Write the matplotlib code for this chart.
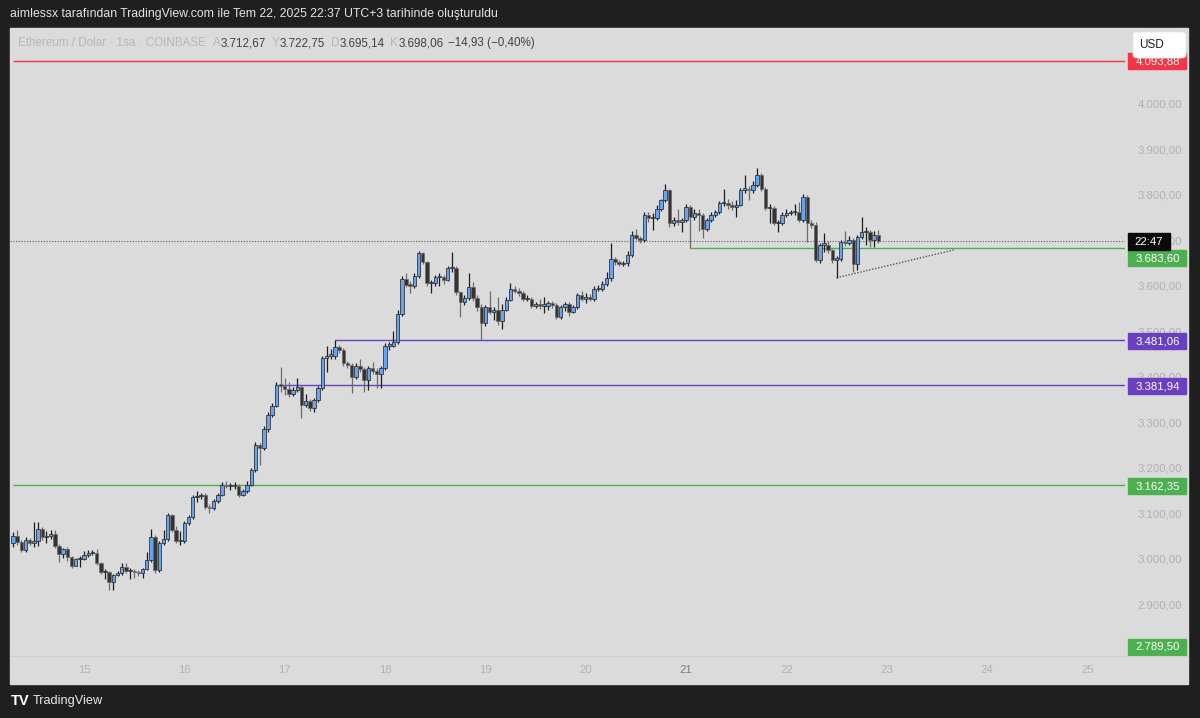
import numpy as np
import matplotlib.pyplot as plt
from matplotlib.patches import Rectangle, FancyBboxPatch
from matplotlib.lines import Line2D

plt.rcParams['font.family'] = ['Liberation Sans', 'DejaVu Sans']

# ---------------- data (ETH/USD, 1h, COINBASE) ----------------
first_open = 3035
closes = [3051, 3037, 3020, 3042, 3035, 3040, 3066, 3048, 3051, 3055,
          3029, 3011, 3022, 3004, 2985, 3000, 3000, 3009, 3013, 3013,
          2991, 2971, 2971, 2949, 2965, 2969, 2982, 2974, 2974, 2971,
          2969, 2978, 2998, 3048, 2976, 3035, 3044, 3097, 3064, 3040,
          3040, 3079, 3092, 3136, 3139, 3141, 3114, 3112, 3128, 3141,
          3163, 3161, 3161, 3161, 3141, 3150, 3163, 3196, 3251, 3244,
          3286, 3317, 3337, 3383, 3381, 3374, 3363, 3372, 3378, 3339,
          3348, 3332, 3350, 3376, 3442, 3447, 3447, 3466, 3460, 3431,
          3427, 3400, 3425, 3418, 3394, 3420, 3414, 3407, 3420, 3469,
          3469, 3477, 3539, 3616, 3603, 3601, 3623, 3673, 3653, 3607,
          3607, 3620, 3620, 3614, 3640, 3640, 3587, 3565, 3574, 3598,
          3574, 3554, 3519, 3554, 3543, 3548, 3524, 3548, 3570, 3594,
          3590, 3585, 3572, 3572, 3557, 3559, 3557, 3557, 3563, 3559,
          3532, 3554, 3561, 3543, 3554, 3581, 3572, 3576, 3572, 3594,
          3594, 3605, 3618, 3660, 3653, 3649, 3651, 3669, 3713, 3706,
          3700, 3757, 3750, 3750, 3770, 3788, 3810, 3739, 3744, 3741,
          3744, 3774, 3752, 3761, 3755, 3726, 3746, 3757, 3763, 3783,
          3783, 3779, 3774, 3779, 3812, 3812, 3810, 3823, 3843, 3814,
          3772, 3772, 3739, 3739, 3757, 3761, 3763, 3763, 3744, 3796,
          3739, 3735, 3658, 3691, 3691, 3678, 3658, 3660, 3697, 3695,
          3702, 3649, 3708, 3719, 3719, 3702, 3712.67, 3698.06]
highs = [3060, 3063, 3041, 3048, 3046, 3081, 3081, 3070, 3062, 3064,
         3064, 3032, 3024, 3026, 3007, 3003, 3007, 3017, 3020, 3020,
         3022, 2993, 2978, 2974, 2968, 2974, 2991, 2991, 2980, 2978,
         2976, 2981, 3015, 3066, 3052, 3040, 3064, 3100, 3099, 3073,
         3062, 3083, 3097, 3140, 3150, 3146, 3145, 3120, 3132, 3145,
         3170, 3172, 3168, 3170, 3164, 3154, 3172, 3200, 3258, 3256,
         3292, 3322, 3342, 3388, 3422, 3398, 3390, 3378, 3398, 3382,
         3362, 3352, 3354, 3380, 3447, 3469, 3462, 3481, 3470, 3463,
         3436, 3430, 3430, 3440, 3422, 3424, 3432, 3420, 3425, 3474,
         3478, 3500, 3548, 3622, 3629, 3610, 3629, 3676, 3675, 3656,
         3614, 3625, 3628, 3624, 3645, 3675, 3645, 3590, 3580, 3629,
         3608, 3580, 3560, 3558, 3590, 3553, 3576, 3560, 3575, 3607,
         3600, 3595, 3590, 3580, 3576, 3564, 3572, 3576, 3568, 3566,
         3562, 3558, 3565, 3565, 3558, 3585, 3590, 3585, 3582, 3600,
         3602, 3612, 3630, 3695, 3664, 3658, 3656, 3676, 3720, 3725,
         3710, 3762, 3763, 3760, 3778, 3792, 3825, 3814, 3752, 3770,
         3750, 3780, 3778, 3770, 3770, 3760, 3750, 3762, 3768, 3786,
         3814, 3792, 3786, 3790, 3816, 3843, 3820, 3830, 3860, 3848,
         3818, 3780, 3776, 3745, 3762, 3770, 3768, 3780, 3785, 3803,
         3800, 3744, 3740, 3695, 3717, 3698, 3682, 3665, 3700, 3721,
         3710, 3706, 3712, 3752, 3730, 3723, 3720, 3722.75]
lows = [3026, 3030, 3015, 3016, 3030, 3027, 3029, 3042, 3035, 3044,
        3024, 2993, 3002, 2996, 2980, 2984, 2983, 2998, 3004, 3009,
        2987, 2967, 2956, 2932, 2932, 2962, 2965, 2970, 2956, 2958,
        2962, 2958, 2976, 2994, 2970, 2972, 3030, 3040, 3060, 3035,
        3030, 3036, 3075, 3088, 3125, 3132, 3110, 3100, 3108, 3124,
        3138, 3156, 3152, 3154, 3137, 3138, 3146, 3160, 3192, 3207,
        3240, 3280, 3312, 3333, 3367, 3360, 3355, 3358, 3366, 3310,
        3333, 3325, 3322, 3345, 3372, 3411, 3440, 3440, 3452, 3425,
        3420, 3365, 3395, 3410, 3367, 3371, 3406, 3376, 3376, 3415,
        3460, 3465, 3472, 3533, 3598, 3585, 3596, 3618, 3648, 3600,
        3585, 3600, 3600, 3605, 3610, 3630, 3580, 3532, 3558, 3570,
        3568, 3545, 3482, 3512, 3538, 3525, 3515, 3505, 3545, 3566,
        3585, 3578, 3566, 3566, 3552, 3552, 3550, 3540, 3548, 3552,
        3528, 3528, 3545, 3535, 3540, 3550, 3566, 3562, 3566, 3568,
        3588, 3590, 3600, 3612, 3646, 3643, 3645, 3645, 3664, 3700,
        3695, 3696, 3740, 3722, 3744, 3765, 3785, 3730, 3732, 3735,
        3718, 3740, 3684, 3746, 3720, 3706, 3720, 3740, 3752, 3758,
        3775, 3770, 3768, 3752, 3775, 3805, 3790, 3805, 3818, 3808,
        3768, 3739, 3733, 3719, 3735, 3752, 3755, 3756, 3740, 3740,
        3697, 3728, 3652, 3650, 3675, 3672, 3650, 3618, 3655, 3688,
        3690, 3631, 3636, 3704, 3690, 3685, 3685, 3695.14]
opens = [first_open] + closes[:-1]

day_labels = ['15', '16', '17', '18', '19', '20', '21', '22', '23', '24', '25']
first_midnight = 17          # candle index of 15 Tem 00:00
price_ticks = [2900, 3000, 3100, 3200, 3300, 3400, 3500, 3600, 3700, 3800, 3900, 4000]

# drawn levels: (value, colour, first candle index)
levels = [(4093.88, '#f23645', 0),
          (3683.60, '#4caf50', 162),
          (3481.06, '#6a3fc0', 77),
          (3381.94, '#6a3fc0', 64),
          (3162.35, '#4caf50', 0)]
# price scale tags: (text, colour, shown at)
tags = [('4.093,88', '#f23645', 4093.88),
        ('3.683,60', '#4caf50', 3661),
        ('3.481,06', '#6a3fc0', 3479),
        ('3.381,94', '#6a3fc0', 3380),
        ('3.162,35', '#4caf50', 3160),
        ('2.789,50', '#4caf50', 2807)]
last_price = 3698.06
trend_x = [197, 225.4]
trend_y = [3618, 3680]


def tr(v):
    return f"{v:,.2f}".replace(',', '#').replace('.', ',').replace('#', '.')


W, H = 1200, 718
fig = plt.figure(figsize=(W / 100, H / 100), dpi=100, facecolor='#1f1f1f')


def fx(px):
    return px / W


def fy(py):
    return 1 - py / H


panel = '#dbdbdb'
fig.patches.append(Rectangle((fx(10), fy(684)), fx(1188) - fx(10), fy(28) - fy(684),
                             transform=fig.transFigure, color=panel, zorder=-5))

ax = fig.add_axes([fx(10), fy(655), (1125 - 10) / W, (655 - 28) / H])
ax.set_facecolor(panel)
ax.set_ylim(2789, 4167)
ax.set_xlim(-0.72, 266.0)
for s in ax.spines.values():
    s.set_visible(False)

idx = np.arange(len(closes))
o = np.array(opens, float)
c = np.array(closes, float)
hi = np.array(highs, float)
lo = np.array(lows, float)
up = c >= o
blo = np.minimum(o, c)
bh = np.maximum(np.abs(c - o), 2.6)

ax.vlines(idx[up], lo[up], hi[up], color='#1c1c1c', lw=0.9, zorder=3)
ax.vlines(idx[~up], lo[~up], hi[~up], color='#6c6c6c', lw=0.9, zorder=3)
ax.bar(idx[up], bh[up], bottom=blo[up], width=0.82, color='#66a3f2',
       edgecolor='#2a2a2a', linewidth=0.55, zorder=4)
ax.bar(idx[~up], bh[~up], bottom=blo[~up], width=0.82, color='#333333',
       edgecolor='#6e6e6e', linewidth=0.55, zorder=4)

for val, col, start in levels:
    ax.plot([start, 266.0], [val, val], color=col, lw=1.0, zorder=2,
            solid_capstyle='butt')

ax.axhline(last_price, color='#5a5a5a', lw=0.8, ls=(0, (1, 1.5)), zorder=1)
ax.plot(trend_x, trend_y, color='#555555', lw=1.0, ls=(0, (1, 1.2)), zorder=2)

# axes ticks
ax.yaxis.tick_right()
ax.set_yticks(price_ticks)
ax.set_yticklabels([tr(v) for v in price_ticks])
ax.tick_params(axis='y', length=0, pad=9, labelsize=8.2, labelcolor='#b0b0b0')
ax.set_xticks([first_midnight + 24 * k for k in range(len(day_labels))])
ax.set_xticklabels(day_labels)
ax.tick_params(axis='x', length=0, pad=7, labelsize=8.2, labelcolor='#b0b2b8')
for t in ax.get_xticklabels():
    if t.get_text() == '21':
        t.set_color('#7b7d84')

# price scale overlay (tags)
sax = fig.add_axes([fx(1125), fy(655), 63 / W, (655 - 28) / H], sharey=ax)
sax.set_xlim(0, 63)
sax.axis('off')
pu = (4167 - 2789) / 627.0   # price units per pixel
for txt, col, yv in tags:
    sax.add_patch(Rectangle((3, yv - 8 * pu), 58, 16 * pu, color=col, zorder=5,
                            clip_on=False))
    sax.text(33, yv, txt, color='white', fontsize=8.2, ha='center', va='center',
             zorder=6, clip_on=False)
sax.add_patch(Rectangle((3, 3696 - 8 * pu), 42, 17 * pu, color='#0a0a0a', zorder=5,
                        clip_on=False))
sax.text(24, 3696, '22:47', color='white', fontsize=8.2, ha='center', va='center',
         zorder=6)

# USD box
fig.patches.append(FancyBboxPatch((fx(1133), fy(58)), fx(1186) - fx(1133), fy(32) - fy(58),
                                  boxstyle='round,pad=0,rounding_size=0.004',
                                  transform=fig.transFigure, facecolor='white',
                                  edgecolor='#e6e6e6', lw=0.6, zorder=10))
fig.text(fx(1152), fy(45), 'USD', color='#202020', fontsize=8.5, va='center',
         ha='center', zorder=11)

# separator of time scale
fig.lines.append(Line2D([fx(10), fx(1188)], [fy(656), fy(656)], transform=fig.transFigure,
                        color='#cecece', lw=0.8))

# header text
fig.text(fx(10), fy(14), 'aimlessx tarafından TradingView.com ile Tem 22, 2025 22:37 UTC+3 tarihinde oluşturuldu',
         color='#e4e4e4', fontsize=8.8, va='center', ha='left')

# legend line
renderer = fig.canvas.get_renderer()
pieces = [('Ethereum / Dolar · 1sa · COINBASE', '#b7b7b7', 7),
          ('A', '#b7b7b7', 0), ('3.712,67', '#424242', 6),
          ('Y', '#b7b7b7', 0), ('3.722,75', '#424242', 6),
          ('D', '#b7b7b7', 0), ('3.695,14', '#424242', 6),
          ('K', '#b7b7b7', 0), ('3.698,06', '#424242', 5),
          ('\u221214,93 (\u22120,40%)', '#424242', 0)]
xp = 18
for txt, col, gap in pieces:
    t = fig.text(fx(xp), fy(43), txt, color=col, fontsize=8.4, va='center', ha='left')
    w = t.get_window_extent(renderer).width
    xp += w + gap

# bottom logo
fig.text(fx(11), fy(701), 'TV', color='white', fontsize=10.5, fontweight='bold',
         va='center', ha='left')
fig.text(fx(33), fy(701), 'TradingView', color='#e8e8e8', fontsize=9.2,
         va='center', ha='left')

fig.savefig('out.png', dpi=100, facecolor=fig.get_facecolor())
